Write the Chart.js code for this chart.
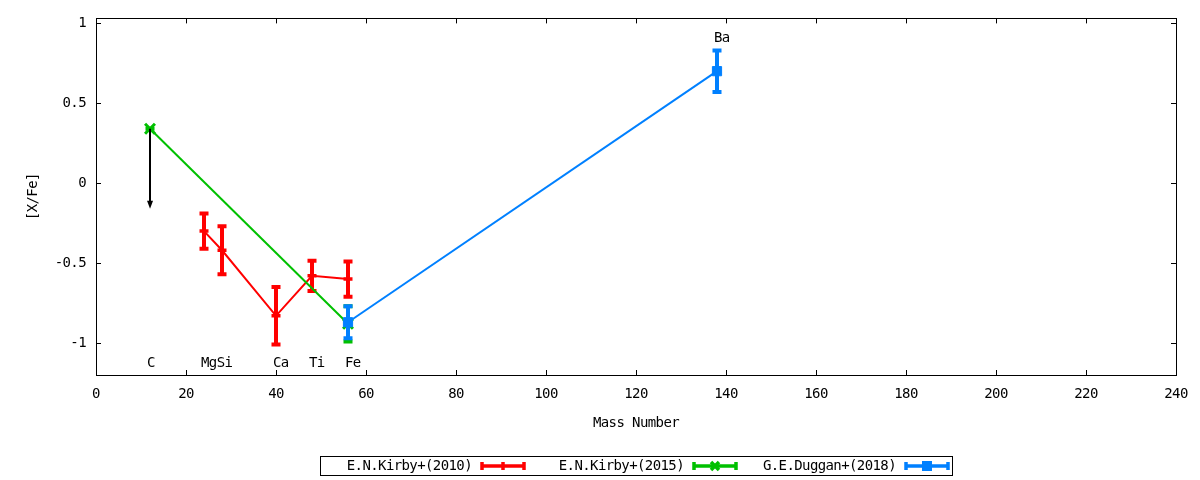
<!DOCTYPE html>
<html>
<head>
<meta charset="utf-8">
<script src="https://cdn.jsdelivr.net/npm/chart.js@4/dist/chart.umd.min.js"></script>
<style>
  html, body { margin: 0; padding: 0; background: #fff; }
</style>
</head>
<body>
<canvas id="chart1" width="1200" height="480"></canvas>
<script>
// E.N.Kirby+(2010)
let kirby10Mass = [24, 28, 40, 48, 56];
let kirby10Val  = [-0.30, -0.42, -0.83, -0.58, -0.60];
let kirby10Err  = [0.11, 0.15, 0.18, 0.095, 0.11];

// E.N.Kirby+(2015)
let kirby15Mass = [12, 56];
let kirby15Val  = [0.34, -0.88];
let kirby15Err  = [0, 0.11];

// G.E.Duggan+(2018)
let duggan18Mass = [56, 138];
let duggan18Val  = [-0.87, 0.70];
let duggan18Err  = [0.10, 0.13];

// upper limit arrow on C
let arrowMass = [12, 12];
let arrowVal  = [0.34, -0.16];

// element labels
let elemNames = ['C', 'Mg', 'Si', 'Ca', 'Ti', 'Fe', 'Ba'];
let elemMass  = [12, 24, 27.5, 40, 48, 56, 138];
let elemVal   = [-1.13, -1.13, -1.13, -1.13, -1.13, -1.13, 0.905];

let xTicks = [0, 20, 40, 60, 80, 100, 120, 140, 160, 180, 200, 220, 240];
let yTicks = [-1, -0.5, 0, 0.5, 1];
let seriesNames = ['E.N.Kirby+(2010)', 'E.N.Kirby+(2015)', 'G.E.Duggan+(2018)'];
let seriesColors = ['#ff0000', '#00c000', '#0080ff'];

function pts(xs, ys) {
    return xs.map(function(x, i) { return {x: x, y: ys[i]}; });
}

let errs = [kirby10Err, kirby15Err, duggan18Err];
let monoFont = "'DejaVu Sans Mono', 'Liberation Mono', monospace";

Chart.defaults.font.family = monoFont;
Chart.defaults.font.size = 14;
Chart.defaults.color = '#000';

// narrower text, closer to the gnuplot png font
let squeeze = {
    id: 'squeeze',
    beforeDraw: function(chart) { chart.ctx.letterSpacing = '-0.6px'; }
};

// error bars, drawn right after each dataset
let errorBars = {
    id: 'errorBars',
    afterDatasetDraw: function(chart, args) {
        let ctx = chart.ctx;
        let xs = chart.scales.x, ys = chart.scales.y;
        let ds = chart.data.datasets[args.index];
        let err = errs[args.index];
        ctx.save();
        ctx.strokeStyle = ds.borderColor;
        ctx.lineWidth = 4;
        ctx.lineCap = 'butt';
        ds.data.forEach(function(p, i) {
            let px = xs.getPixelForValue(p.x);
            let top = ys.getPixelForValue(p.y + err[i]);
            let bot = ys.getPixelForValue(p.y - err[i]);
            ctx.beginPath();
            ctx.moveTo(px, top); ctx.lineTo(px, bot);
            ctx.moveTo(px - 4.5, top); ctx.lineTo(px + 4.5, top);
            ctx.moveTo(px - 4.5, bot); ctx.lineTo(px + 4.5, bot);
            ctx.stroke();
        });
        ctx.restore();
    }
};

// frame, inward ticks, labels, arrow, legend
let decorations = {
    id: 'decorations',
    afterDraw: function(chart) {
        let ctx = chart.ctx;
        let a = chart.chartArea;
        let xs = chart.scales.x, ys = chart.scales.y;
        ctx.save();
        ctx.strokeStyle = '#000';
        ctx.lineWidth = 1;
        ctx.strokeRect(Math.round(a.left) + 0.5, Math.round(a.top) + 0.5,
            Math.round(a.right - a.left), Math.round(a.bottom - a.top));
        ctx.beginPath();
        xTicks.forEach(function(v) {
            let px = Math.round(xs.getPixelForValue(v)) + 0.5;
            ctx.moveTo(px, a.bottom); ctx.lineTo(px, a.bottom - 5);
            ctx.moveTo(px, a.top); ctx.lineTo(px, a.top + 5);
        });
        yTicks.forEach(function(v) {
            let py = Math.round(ys.getPixelForValue(v)) + 0.5;
            ctx.moveTo(a.left, py); ctx.lineTo(a.left + 5, py);
            ctx.moveTo(a.right, py); ctx.lineTo(a.right - 5, py);
        });
        ctx.stroke();

        // upper limit arrow
        let ax = xs.getPixelForValue(arrowMass[0]);
        let ay0 = ys.getPixelForValue(arrowVal[0]);
        let ay1 = ys.getPixelForValue(arrowVal[1]);
        ctx.strokeStyle = '#000';
        ctx.fillStyle = '#000';
        ctx.lineWidth = 2;
        ctx.beginPath();
        ctx.moveTo(ax, ay0); ctx.lineTo(ax, ay1 - 6);
        ctx.stroke();
        ctx.beginPath();
        ctx.moveTo(ax - 3, ay1 - 8); ctx.lineTo(ax + 3, ay1 - 8); ctx.lineTo(ax, ay1);
        ctx.closePath();
        ctx.fill();

        // element names
        ctx.font = '14px ' + monoFont;
        ctx.fillStyle = '#000';
        ctx.textAlign = 'left';
        ctx.textBaseline = 'middle';
        elemNames.forEach(function(n, i) {
            ctx.fillText(n, xs.getPixelForValue(elemMass[i]) - 3, ys.getPixelForValue(elemVal[i]));
        });

        // legend, gnuplot style: text then sample
        let lx = 320, ly = 456, lw = 632, lh = 19;
        ctx.lineWidth = 1;
        ctx.strokeStyle = '#000';
        ctx.strokeRect(lx + 0.5, ly + 0.5, lw, lh);
        let cy = ly + lh / 2 + 0.5;
        seriesNames.forEach(function(name, i) {
            let ex = lx + i * 212;
            ctx.fillStyle = '#000';
            ctx.textAlign = 'right';
            ctx.fillText(name, ex + 152, cy);
            let s0 = ex + 161, s1 = ex + 205, sm = (s0 + s1) / 2;
            let c = seriesColors[i];
            ctx.strokeStyle = c;
            ctx.fillStyle = c;
            ctx.lineWidth = 3.5;
            ctx.beginPath();
            ctx.moveTo(s0, cy); ctx.lineTo(s1, cy);
            ctx.moveTo(s0 + 1, cy - 4); ctx.lineTo(s0 + 1, cy + 4);
            ctx.moveTo(s1 - 1, cy - 4); ctx.lineTo(s1 - 1, cy + 4);
            ctx.stroke();
            ctx.beginPath();
            if (i === 0) {
                ctx.moveTo(sm, cy - 4); ctx.lineTo(sm, cy + 4);
                ctx.stroke();
            } else if (i === 1) {
                ctx.moveTo(sm - 4, cy - 4); ctx.lineTo(sm + 4, cy + 4);
                ctx.moveTo(sm - 4, cy + 4); ctx.lineTo(sm + 4, cy - 4);
                ctx.stroke();
            } else {
                ctx.fillRect(sm - 5, cy - 5, 10, 10);
            }
        });
        ctx.restore();
    }
};

var ctx = document.getElementById('chart1').getContext('2d');
var data = {
    datasets: [{
        label: seriesNames[0],
        data: pts(kirby10Mass, kirby10Val),
        showLine: true,
        borderColor: seriesColors[0],
        backgroundColor: seriesColors[0],
        borderWidth: 2,
        pointStyle: 'cross',
        pointRadius: 4.5,
        pointBorderWidth: 3.5,
        order: 3
    }, {
        label: seriesNames[1],
        data: pts(kirby15Mass, kirby15Val),
        showLine: true,
        borderColor: seriesColors[1],
        backgroundColor: seriesColors[1],
        borderWidth: 2,
        pointStyle: 'crossRot',
        pointRadius: 7,
        pointBorderWidth: 3,
        order: 2
    }, {
        label: seriesNames[2],
        data: pts(duggan18Mass, duggan18Val),
        showLine: true,
        borderColor: seriesColors[2],
        backgroundColor: seriesColors[2],
        borderWidth: 2,
        pointStyle: 'rect',
        pointRadius: 6.5,
        pointBorderWidth: 1,
        order: 1
    }]
};

var options = {
    responsive: false,
    animation: false,
    layout: { padding: { left: 0, right: 24, top: 17, bottom: 45 } },
    plugins: { legend: { display: false }, tooltip: { enabled: false } },
    scales: {
        x: {
            type: 'linear',
            min: 0,
            max: 240,
            afterBuildTicks: function(s) { s.ticks = xTicks.map(function(v) { return {value: v}; }); },
            afterFit: function(s) { s.height = 60; },
            ticks: { padding: 11, maxRotation: 0, autoSkip: false, callback: function(v) { return String(v); } },
            grid: { display: false, drawTicks: false },
            border: { display: false },
            title: { display: true, text: 'Mass Number', padding: { top: 4, bottom: 3 } }
        },
        y: {
            type: 'linear',
            min: -1.2,
            max: 1.03,
            afterBuildTicks: function(s) { s.ticks = yTicks.map(function(v) { return {value: v}; }); },
            afterFit: function(s) { s.width = 96; },
            ticks: { padding: 10, autoSkip: false, callback: function(v) { return String(v); } },
            grid: { display: false, drawTicks: false },
            border: { display: false },
            title: { display: true, text: '[X/Fe]', padding: { top: 25, bottom: 4 } }
        }
    }
};

var chart = new Chart(ctx, {
    type: 'scatter',
    data: data,
    options: options,
    plugins: [squeeze, errorBars, decorations]
});
</script>
</body>
</html>
